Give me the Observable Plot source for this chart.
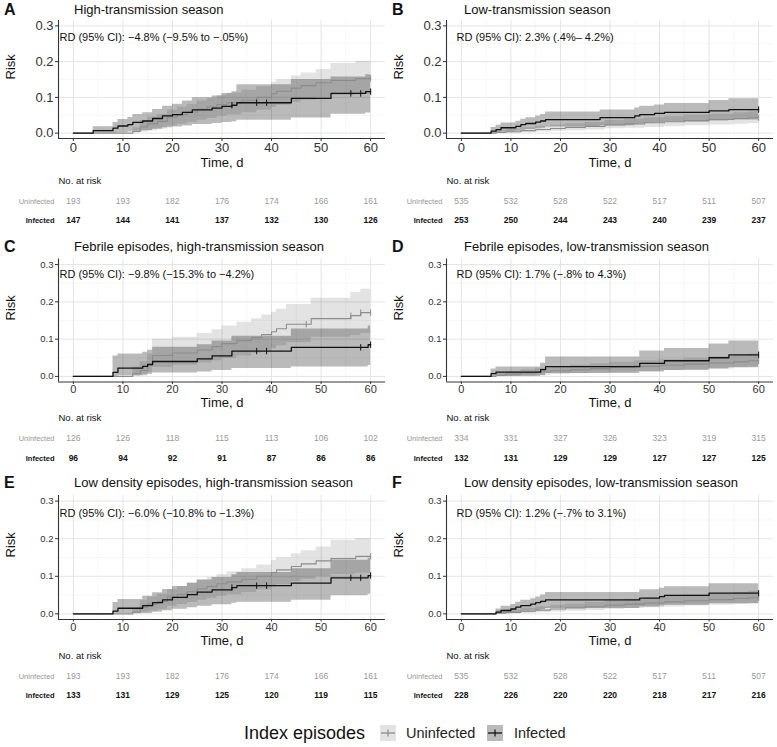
<!DOCTYPE html>
<html><head><meta charset="utf-8">
<script src="https://cdn.jsdelivr.net/npm/d3@7"></script>
<script src="https://cdn.jsdelivr.net/npm/@observablehq/plot@0.6"></script>
<style>
body{margin:0;background:#fff;font-family:"Liberation Sans",Arial,Helvetica,sans-serif}
#root{position:relative;width:777px;height:747px;overflow:hidden;background:#fff}
.lab{position:absolute;white-space:nowrap;line-height:1;color:#111}
.panel{position:absolute}
</style></head>
<body><div id="root"></div>
<script>
// ---------- data ----------
const xTicks = [0, 10, 20, 30, 40, 50, 60];
const xMinor = [5, 15, 25, 35, 45, 55];
const yTicks = [0, 0.1, 0.2, 0.3];
const yMinor = [0.05, 0.15, 0.25];
const xDomain = [-3, 63];
const yDomain = [-0.015, 0.315];

const letters = ["A", "B", "C", "D", "E", "F"];
const titles = [
  "High-transmission season",
  "Low-transmission season",
  "Febrile episodes, high-transmission season",
  "Febrile episodes, low-transmission season",
  "Low density episodes, high-transmission season",
  "Low density episodes, low-transmission season"
];
const rdLabels = [
  "RD (95% CI): \u22124.8% (\u22129.5% to \u2212.05%)",
  "RD (95% CI): 2.3% (.4%\u2013 4.2%)",
  "RD (95% CI): \u22129.8% (\u221215.3% to \u22124.2%)",
  "RD (95% CI): 1.7% (\u2212.8% to 4.3%)",
  "RD (95% CI): \u22126.0% (\u221210.8% to \u22121.3%)",
  "RD (95% CI): 1.2% (\u2212.7% to 3.1%)"
];

// numbers at risk
const riskUninA = [193, 193, 182, 176, 174, 166, 161];
const riskInfA  = [147, 144, 141, 137, 132, 130, 126];
const riskUninB = [535, 532, 528, 522, 517, 511, 507];
const riskInfB  = [253, 250, 244, 243, 240, 239, 237];
const riskUninC = [126, 126, 118, 115, 113, 106, 102];
const riskInfC  = [96, 94, 92, 91, 87, 86, 86];
const riskUninD = [334, 331, 327, 326, 323, 319, 315];
const riskInfD  = [132, 131, 129, 129, 127, 127, 125];
const riskUninE = [193, 193, 182, 176, 174, 166, 161];
const riskInfE  = [133, 131, 129, 125, 120, 119, 115];
const riskUninF = [535, 532, 528, 522, 517, 511, 507];
const riskInfF  = [228, 226, 220, 220, 218, 217, 216];

// Uninfected, high-transmission season (A, E)
const uninHighT   = [0, 12, 13.5, 15, 17, 19, 21, 23, 25, 27, 29, 31, 34, 37, 40, 41, 44, 46, 49, 52, 57];
const uninHighEst = [0, .005, .018, .026, .033, .045, .052, .059, .067, .073, .08, .085, .092, .1, .11, .117, .126, .133, .141, .147, .153];
const uninHighLo  = [0, 0, .003, .007, .011, .02, .025, .03, .036, .041, .047, .051, .057, .064, .072, .078, .086, .092, .099, .105, .108];
const uninHighHi  = [0, .015, .035, .045, .052, .065, .073, .081, .09, .097, .105, .112, .12, .13, .142, .15, .16, .168, .178, .195, .2];
const uninHighCens = [60];

// Infected, high-transmission season (A)
const infAT   = [0, 4, 8, 9, 11, 12, 14, 16, 18, 20, 22, 24, 28, 30, 32, 33, 44, 52, 59];
const infAEst = [0, .007, .014, .02, .024, .03, .034, .041, .048, .052, .058, .065, .07, .075, .078, .085, .097, .111, .116];
const infALo  = [0, 0, 0, .001, .003, .005, .007, .011, .015, .017, .02, .024, .027, .03, .032, .036, .042, .053, .056];
const infAHi  = [0, .018, .03, .038, .044, .052, .057, .066, .075, .081, .09, .099, .104, .111, .116, .135, .15, .157, .163];
const infACens = [32, 37, 39, 56, 58, 60];

// Uninfected, low-transmission season (B, F)
const uninLowT   = [0, 7, 9, 12, 15, 18, 21, 25, 29, 33, 37, 41, 45, 50, 55, 58];
const uninLowEst = [0, .002, .004, .007, .01, .013, .016, .019, .023, .026, .029, .032, .035, .038, .041, .043];
const uninLowLo  = [0, 0, 0, .001, .003, .005, .007, .009, .012, .014, .016, .018, .021, .023, .025, .027];
const uninLowHi  = [0, .008, .011, .015, .019, .023, .026, .03, .035, .039, .043, .046, .05, .053, .057, .06];
const uninLowCens = [60];

// Infected, low-transmission season (B)
const infBT   = [0, 6, 7, 8, 11, 12, 13, 15, 16, 17, 28, 35, 36, 39, 41, 50, 54];
const infBEst = [0, .0055, .01, .015, .019, .024, .027, .031, .034, .038, .0435, .048, .052, .055, .058, .062, .066];
const infBLo  = [0, 0, 0, .003, .005, .008, .01, .012, .014, .017, .021, .024, .027, .029, .031, .034, .037];
const infBHi  = [0, .016, .022, .028, .033, .039, .043, .048, .052, .059, .065, .07, .075, .079, .083, .091, .096];
const infBCens = [60];

// Febrile, high-transmission (C)
const uninCT   = [0, 12, 13.5, 15, 16, 20, 25, 28, 30, 33, 36, 38, 40, 41, 43, 48, 56, 58];
const uninCEst = [0, .008, .016, .032, .056, .063, .071, .08, .088, .096, .104, .112, .12, .128, .14, .155, .163, .171];
const uninCLo  = [0, 0, .001, .01, .024, .03, .036, .042, .048, .055, .062, .068, .075, .082, .09, .105, .11, .115];
const uninCHi  = [0, .025, .04, .06, .1, .105, .115, .125, .135, .145, .155, .165, .172, .18, .193, .21, .225, .234];
const uninCCens = [47, 56, 58, 60];
const infCT   = [0, 8, 9, 14, 15, 16, 25, 28, 32, 44, 59.5];
const infCEst = [0, .011, .022, .027, .032, .04, .047, .055, .068, .078, .085];
const infCLo  = [0, 0, .002, .004, .006, .009, .012, .016, .021, .025, .029];
const infCHi  = [0, .055, .06, .065, .07, .078, .085, .095, .108, .127, .135];
const infCCens = [37, 39, 58, 60];

// Febrile, low-transmission (D)
const uninDT   = [0, 7, 9, 12, 15, 18, 22, 26, 30, 35, 40, 45, 50, 55, 58];
const uninDEst = [0, .003, .006, .009, .012, .015, .018, .021, .024, .027, .03, .033, .036, .039, .042];
const uninDLo  = [0, 0, 0, .001, .003, .005, .007, .009, .011, .013, .016, .018, .02, .023, .025];
const uninDHi  = [0, .009, .013, .018, .022, .026, .03, .034, .038, .042, .045, .049, .053, .056, .06];
const uninDCens = [60];
const infDT   = [0, 6, 7, 16, 17, 36, 41, 50, 54];
const infDEst = [0, .0076, .0115, .018, .026, .035, .042, .05, .058];
const infDLo  = [0, 0, 0, .002, .008, .012, .016, .02, .023];
const infDHi  = [0, .02, .025, .035, .052, .068, .075, .087, .095];
const infDCens = [60];

// Low density, high-transmission (E)
const infET   = [0, 8, 9, 14, 16, 18, 20, 23, 25, 28, 32, 33, 44, 52, 59.5];
const infEEst = [0, .0075, .015, .022, .03, .037, .044, .051, .058, .064, .07, .075, .082, .096, .102];
const infELo  = [0, 0, 0, .001, .004, .008, .012, .016, .02, .024, .028, .031, .036, .048, .052];
const infEHi  = [0, .03, .038, .047, .056, .065, .073, .082, .09, .097, .104, .11, .12, .143, .148];
const infECens = [32, 37, 39, 56, 58, 60];

// Low density, low-transmission (F)
const infFT   = [0, 7, 8, 10, 11, 12, 14, 15, 16, 17, 36, 40, 41, 50];
const infFEst = [0, .0045, .009, .013, .018, .022, .026, .03, .033, .037, .042, .046, .049, .055];
const infFLo  = [0, 0, 0, .001, .003, .005, .007, .009, .011, .014, .018, .021, .023, .027];
const infFHi  = [0, .013, .02, .025, .031, .036, .04, .045, .05, .057, .064, .068, .072, .08];
const infFCens = [60];

// ---------- assemble ----------
function series(t, est, lo, hi, cens) {
  const rows = t.map((d, i) => ({t: d, est: est[i], lo: lo[i], hi: hi[i]}));
  rows.push({...rows[rows.length - 1], t: xTicks[xTicks.length - 1]});
  const at = (x) => { let v = rows[0]; for (const r of rows) if (r.t <= x) v = r; return v.est; };
  return {rows, cens: cens.map(c => ({t: c, est: at(c)}))};
}
const panels = [
  {u: series(uninHighT, uninHighEst, uninHighLo, uninHighHi, uninHighCens), i: series(infAT, infAEst, infALo, infAHi, infACens), ru: riskUninA, ri: riskInfA},
  {u: series(uninLowT, uninLowEst, uninLowLo, uninLowHi, uninLowCens), i: series(infBT, infBEst, infBLo, infBHi, infBCens), ru: riskUninB, ri: riskInfB},
  {u: series(uninCT, uninCEst, uninCLo, uninCHi, uninCCens), i: series(infCT, infCEst, infCLo, infCHi, infCCens), ru: riskUninC, ri: riskInfC},
  {u: series(uninDT, uninDEst, uninDLo, uninDHi, uninDCens), i: series(infDT, infDEst, infDLo, infDHi, infDCens), ru: riskUninD, ri: riskInfD},
  {u: series(uninHighT, uninHighEst, uninHighLo, uninHighHi, uninHighCens), i: series(infET, infEEst, infELo, infEHi, infECens), ru: riskUninE, ri: riskInfE},
  {u: series(uninLowT, uninLowEst, uninLowLo, uninLowHi, uninLowCens), i: series(infFT, infFEst, infFLo, infFHi, infFCens), ru: riskUninF, ri: riskInfF}
];

// ---------- layout ----------
const rowL = [
  {top: 0,   frameTop: 20,    frameBottom: 138,   xFont: 13, yFont: 13,  tickSize: 3,   tickPad: 1,   timeDy: 24.5, noDy: 42,   uninDy: 63,   infDy: 82,   rdDy: 17, titleY: 10},
  {top: 240, frameTop: 258.5, frameBottom: 381.5, xFont: 11, yFont: 9.5, tickSize: 2.5, tickPad: 0.5, timeDy: 20.5, noDy: 35.5, uninDy: 56.5, infDy: 76.5, rdDy: 15, titleY: 247},
  {top: 470, frameTop: 495,   frameBottom: 619,   xFont: 11, yFont: 9.5, tickSize: 2.5, tickPad: 1,   timeDy: 21.5, noDy: 36.5, uninDy: 56.7, infDy: 76,   rdDy: 18, titleY: 483}
];
const colL = [
  {left: 0,   width: 388, marginLeft: 58, marginRight: 3, titleX: 74,  letterX: 4,   rdDx: 1},
  {left: 388, width: 389, marginLeft: 58, marginRight: 4, titleX: 464, letterX: 392, rdDx: 10}
];

const FONT = '"Liberation Sans", Arial, Helvetica, sans-serif';
const root = document.getElementById("root");
const vbar = {draw(ctx, size) { const r = Math.sqrt(size / Math.PI); ctx.moveTo(0, -r); ctx.lineTo(0, r); }};
const uninColor = "#8c8c8c", infColor = "#111111";
const mid = {lineAnchor: "middle"};

panels.forEach((p, k) => {
  const R = rowL[Math.floor(k / 2)], C = colL[k % 2];
  const mb = 92;
  const chart = Plot.plot({
    width: C.width,
    height: R.frameBottom - R.top + mb,
    marginLeft: C.marginLeft, marginRight: C.marginRight,
    marginTop: R.frameTop - R.top, marginBottom: mb,
    x: {domain: xDomain},
    y: {domain: yDomain},
    style: {fontFamily: FONT, color: "#333", background: "transparent", overflow: "visible"},
    marks: [
      Plot.ruleX(xMinor, {stroke: "#f2f2f2", strokeWidth: 0.7}),
      Plot.ruleY(yMinor, {stroke: "#f2f2f2", strokeWidth: 0.7}),
      Plot.ruleX(xTicks, {stroke: "#e4e4e4", strokeWidth: 1}),
      Plot.ruleY(yTicks, {stroke: "#e4e4e4", strokeWidth: 1}),
      Plot.areaY(p.u.rows, {x: "t", y1: "lo", y2: "hi", curve: "step-after", fill: "#000", fillOpacity: 0.11}),
      Plot.areaY(p.i.rows, {x: "t", y1: "lo", y2: "hi", curve: "step-after", fill: "#000", fillOpacity: 0.27}),
      Plot.line(p.u.rows, {x: "t", y: "est", curve: "step-after", stroke: uninColor, strokeWidth: 1.1}),
      Plot.line(p.i.rows, {x: "t", y: "est", curve: "step-after", stroke: infColor, strokeWidth: 1.3}),
      Plot.dot(p.u.cens, {x: "t", y: "est", r: 3.2, symbol: vbar, stroke: uninColor, fill: "none", strokeWidth: 1}),
      Plot.dot(p.i.cens, {x: "t", y: "est", r: 3.2, symbol: vbar, stroke: infColor, fill: "none", strokeWidth: 1}),
      Plot.ruleY([yDomain[0]], {stroke: "#333", strokeWidth: 1.1}),
      Plot.ruleX([xDomain[0]], {stroke: "#333", strokeWidth: 1.1}),
      Plot.axisX(xTicks, {tickSize: R.tickSize, tickPadding: R.tickPad, fontSize: R.xFont, tickFormat: d => String(d), label: null, stroke: "#333", fill: "#333"}),
      Plot.axisY(yTicks, {tickSize: 3, tickPadding: 2, fontSize: R.yFont, tickFormat: d3.format(".1f"), label: null, stroke: "#333", fill: "#333"}),
      Plot.text([rdLabels[k]], {...mid, text: d => d, frameAnchor: "top-left", textAnchor: "start", dx: C.rdDx, dy: R.rdDy, fontSize: 11, fill: "#111"}),
      Plot.text(["Risk"], {...mid, text: d => d, frameAnchor: "left", rotate: -90, dx: -48, fontSize: 13, fill: "#111"}),
      Plot.text(["Time, d"], {...mid, text: d => d, frameAnchor: "bottom", dy: R.timeDy, fontSize: 13, fill: "#111"}),
      Plot.text(["No. at risk"], {...mid, text: d => d, frameAnchor: "bottom-left", textAnchor: "start", dy: R.noDy, fontSize: 9.5, fill: "#111"}),
      Plot.text(["Uninfected"], {...mid, text: d => d, frameAnchor: "bottom-left", textAnchor: "end", dx: -4, dy: R.uninDy, fontSize: 7.5, fill: "#999"}),
      Plot.text(["Infected"], {...mid, text: d => d, frameAnchor: "bottom-left", textAnchor: "end", dx: -4, dy: R.infDy, fontSize: 7.5, fontWeight: "bold", fill: "#111"}),
      Plot.text(xTicks, {...mid, x: d => d, text: (d, i) => String(p.ru[i]), frameAnchor: "bottom", dy: R.uninDy, fontSize: 8.5, fill: "#999"}),
      Plot.text(xTicks, {...mid, x: d => d, text: (d, i) => String(p.ri[i]), frameAnchor: "bottom", dy: R.infDy, fontSize: 8.5, fontWeight: "bold", fill: "#111"})
    ]
  });
  const wrap = document.createElement("div");
  wrap.className = "panel";
  wrap.style.left = C.left + "px";
  wrap.style.top = R.top + "px";
  wrap.appendChild(chart);
  root.appendChild(wrap);

  const letter = document.createElement("div");
  letter.className = "lab";
  letter.textContent = letters[k];
  letter.style.cssText += `left:${C.letterX}px;top:${R.titleY - 8}px;font-size:16px;font-weight:bold;`;
  root.appendChild(letter);
  const title = document.createElement("div");
  title.className = "lab";
  title.textContent = titles[k];
  title.style.cssText += `left:${C.titleX}px;top:${R.titleY - 7}px;font-size:13px;`;
  root.appendChild(title);
});

// ---------- legend ----------
const legendItems = [
  {label: "Uninfected", fill: "#000", op: 0.11, stroke: uninColor},
  {label: "Infected", fill: "#000", op: 0.27, stroke: infColor}
];
const legTitle = document.createElement("div");
legTitle.className = "lab";
legTitle.textContent = "Index episodes";
legTitle.style.cssText += "left:244px;top:724px;font-size:18px;";
root.appendChild(legTitle);
const keyX = [380, 487], textX = [406, 514];
legendItems.forEach((it, j) => {
  const ns = "http://www.w3.org/2000/svg";
  const s = document.createElementNS(ns, "svg");
  s.setAttribute("width", 16); s.setAttribute("height", 16);
  s.style.cssText = `position:absolute;left:${keyX[j]}px;top:725px;`;
  s.innerHTML = `<rect width="16" height="16" fill="${it.fill}" fill-opacity="${it.op}"/>` +
    `<line x1="1" x2="15" y1="8" y2="8" stroke="${it.stroke}" stroke-width="1.3"/>` +
    `<line x1="8" x2="8" y1="4.5" y2="11.5" stroke="${it.stroke}" stroke-width="1.2"/>`;
  root.appendChild(s);
  const t = document.createElement("div");
  t.className = "lab";
  t.textContent = it.label;
  t.style.cssText += `left:${textX[j]}px;top:726px;font-size:14.5px;color:#222;`;
  root.appendChild(t);
});
</script></body></html>
